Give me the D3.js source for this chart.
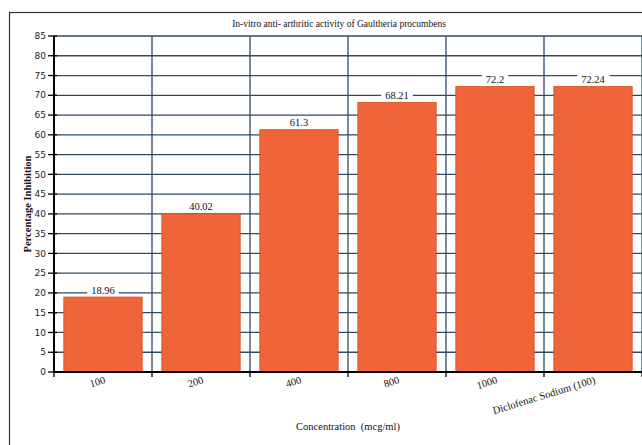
<!DOCTYPE html>
<html>
<head>
<meta charset="utf-8">
<script src="https://cdn.jsdelivr.net/npm/d3@7/dist/d3.min.js"></script>
<style>
  html, body { margin: 0; padding: 0; background: #fff; }
  svg { display: block; }
</style>
</head>
<body>
<svg id="chart" width="642" height="445"></svg>
<script>
const categories = ["100", "200", "400", "800", "1000", "Diclofenac Sodium (100)"];
const values = [18.96, 40.02, 61.3, 68.21, 72.2, 72.24];
const valueLabels = ["18.96", "40.02", "61.3", "68.21", "72.2", "72.24"];
const yTicks = d3.range(0, 86, 5);
const title = "In-vitro anti- arthritic activity of Gaultheria procumbens";
const xTitle = "Concentration  (mcg/ml)";
const yTitle = "Percentage Inhibition";

const svg = d3.select("#chart");
const W = 642, H = 445;
const m = { left: 54, right: 0, top: 36, bottom: 73 };

const x = d3.scaleBand().domain(categories).range([m.left, W - m.right])
  .paddingInner(0.2).paddingOuter(0.1);
const y = d3.scaleLinear().domain([0, 85]).range([H - m.bottom, m.top]);

const gridColor = "#2f4a66";
const serif = "'Liberation Serif', 'DejaVu Serif', serif";
const sans = "'DejaVu Sans', Verdana, sans-serif";

// outer frame
svg.append("rect").attr("x", 9.5).attr("y", 12.5).attr("width", 640).attr("height", 450)
  .attr("fill", "none").attr("stroke", "#333").attr("stroke-width", 1.2);

// horizontal gridlines
svg.append("g").selectAll("line").data(yTicks.filter(d => d > 0)).join("line")
  .attr("x1", m.left).attr("x2", W)
  .attr("y1", d => y(d)).attr("y2", d => y(d))
  .attr("stroke", gridColor).attr("stroke-width", 1.3);

// vertical gridlines at category boundaries
const step = x.step();
const x0 = x.range()[0];
const bounds = d3.range(categories.length + 1).map(i => x0 + i * step);
svg.append("g").selectAll("line").data(bounds.slice(1)).join("line")
  .attr("x1", d => d).attr("x2", d => d)
  .attr("y1", y(85)).attr("y2", y(0))
  .attr("stroke", gridColor).attr("stroke-width", 1.3);

// bars
svg.append("g").selectAll("rect").data(values).join("rect")
  .attr("x", (d, i) => x(categories[i]))
  .attr("width", x.bandwidth())
  .attr("y", d => y(d))
  .attr("height", d => y(0) - y(d))
  .attr("fill", "#ef6438")
  .attr("stroke", "#d0532c").attr("stroke-width", 0.8);

// value labels with white background
const lab = svg.append("g");
values.forEach((v, i) => {
  const cx = x(categories[i]) + x.bandwidth() / 2;
  const t = lab.append("text")
    .attr("x", cx).attr("y", y(v) - 3.5)
    .attr("text-anchor", "middle")
    .attr("font-family", serif).attr("font-size", 10.5)
    .attr("fill", "#111")
    .text(valueLabels[i]);
  const bb = t.node().getBBox();
  lab.insert("rect", "text").attr("x", bb.x - 4).attr("y", y(v) - 13)
    .attr("width", bb.width + 8).attr("height", 11.5).attr("fill", "#fff");
});

// y axis
const yAxis = svg.append("g").attr("transform", `translate(${m.left},0)`);
yAxis.append("line").attr("x1", 0).attr("x2", 0).attr("y1", y(85)).attr("y2", y(0))
  .attr("stroke", "#000").attr("stroke-width", 2);
yAxis.selectAll("line.t").data(yTicks).join("line").attr("class", "t")
  .attr("x1", -6).attr("x2", 3).attr("y1", d => y(d)).attr("y2", d => y(d))
  .attr("stroke", "#000").attr("stroke-width", 1.3);
yAxis.selectAll("text").data(yTicks).join("text")
  .attr("x", -8).attr("y", d => y(d)).attr("dy", "0.35em")
  .attr("text-anchor", "end").attr("font-family", sans).attr("font-size", 9)
  .attr("fill", "#222").text(d => d);

// x axis
const xAxis = svg.append("g");
xAxis.append("line").attr("x1", m.left - 1).attr("x2", W).attr("y1", y(0)).attr("y2", y(0))
  .attr("stroke", "#000").attr("stroke-width", 2);
xAxis.selectAll("line.t").data(bounds).join("line").attr("class", "t")
  .attr("x1", d => d).attr("x2", d => d).attr("y1", y(0)).attr("y2", y(0) + 5)
  .attr("stroke", "#000").attr("stroke-width", 1.3);
xAxis.selectAll("text").data(categories).join("text")
  .attr("transform", d => `translate(${x(d) + x.bandwidth() / 2 + 3},${y(0) + 11}) rotate(-17)`)
  .attr("text-anchor", "end").attr("font-family", serif).attr("font-size", 10.5)
  .attr("fill", "#111").text(d => d);

// titles
svg.append("text").attr("x", 339).attr("y", 27).attr("text-anchor", "middle")
  .attr("font-family", serif).attr("font-size", 9.5).attr("fill", "#111").text(title);
svg.append("text").attr("x", 348).attr("y", 430).attr("text-anchor", "middle")
  .attr("font-family", serif).attr("font-size", 10.5).attr("fill", "#111")
  .style("white-space", "pre").text(xTitle);
svg.append("text").attr("transform", `translate(31,${(y(0) + y(85)) / 2}) rotate(-90)`)
  .attr("text-anchor", "middle").attr("font-family", serif).attr("font-size", 10.5)
  .attr("font-weight", "bold").attr("fill", "#111").text(yTitle);
</script>
</body>
</html>
